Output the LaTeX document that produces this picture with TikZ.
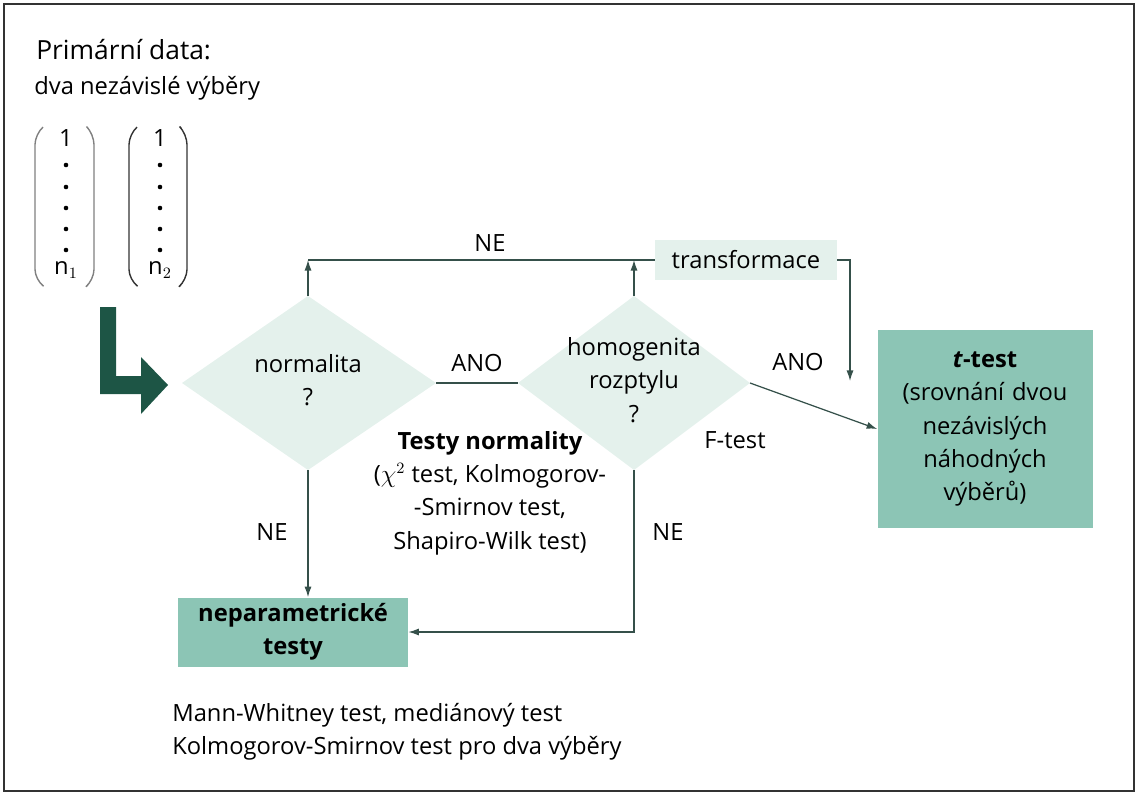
\documentclass[tikz,border=0pt]{standalone}
\usepackage{fontspec}
\setmainfont{Open Sans}
\usetikzlibrary{positioning,arrows.meta}
\definecolor{dgreen}{HTML}{1D5545}
\definecolor{lgreen}{HTML}{E4F1EC}
\definecolor{mgreen}{HTML}{8CC5B5}
\definecolor{lcol}{HTML}{35504A}
\begin{document}
\begin{tikzpicture}[x=0.02cm,y=-0.02cm]
	\tikzset{every node/.style={font=\fontsize{13.5}{19}\selectfont, inner sep=0pt, align=center},
		conn/.style={draw=lcol, line width=0.7pt},
		tip/.style={conn, -{Latex[length=6pt,width=4pt]}},
		dbox/.style={fill=mgreen, text width=#1},
	}
	\useasboundingbox (0,0) rectangle (1141,800);
	\draw [line width=0.8pt, black!80] (4,4) rectangle (1134,791);
	% input data
	\node [anchor=west, align=left, font=\fontsize{15}{19}\selectfont] (prim) at (36,50) {Primární data:};
	\node [anchor=west, align=left] (dva) at (34,88) {dva nezávislé výběry};
	\draw [gray, line width=0.8pt, rounded corners=6pt] (42,128) -- (35,134) -- (35,280) -- (42,285);
	\draw [gray, line width=0.8pt, rounded corners=6pt] (88,128) -- (94,134) -- (94,280) -- (88,285);
	\draw [black!80, line width=0.8pt, rounded corners=6pt] (136,128) -- (129,134) -- (129,280) -- (136,285);
	\draw [black!80, line width=0.8pt, rounded corners=6pt] (181,128) -- (187,134) -- (187,280) -- (181,285);
	\node (one1) at (66,138) {1};
	\node (one2) at (160,138) {1};
	\foreach \y in {165,187,208,229,250} {
		\fill (66,\y) circle (1.3pt);
		\fill (160,\y) circle (1.3pt);
	}
	\node (na) at (66,270) {n$_1$};
	\node (nb) at (160,270) {n$_2$};
	% thick arrow
	\fill [dgreen] (100,307) -- (116,307) -- (116,376) -- (141,376) -- (141,357) -- (168,385) -- (141,414) -- (141,394) -- (100,394) -- cycle;
	% diamonds
	\coordinate (n1t) at (308,296);
	\coordinate (n1b) at (308,470);
	\coordinate (n1r) at (436,383);
	\coordinate (n2t) at (634,296);
	\coordinate (n2b) at (634,470);
	\coordinate (n2l) at (518,383);
	\coordinate (n2r) at (750,383);
	\fill [lgreen] (182,383) -- (n1t) -- (n1r) -- (n1b) -- cycle;
	\fill [lgreen] (n2l) -- (n2t) -- (n2r) -- (n2b) -- cycle;
	\node (norm) at (308,380) {normalita\\?};
	\node (homo) at (634,380) {homogenita\\rozptylu\\?};
	% boxes
	\node [fill=lgreen, minimum width=3.64cm, minimum height=0.8cm] (trans) at (746,260) {transformace};
	\node [dbox=4.3cm, minimum height=3.96cm] (ttest) at (985,429) {\textbf{\textit{t}-test}\\(srovnání dvou\\nezávislých\\náhodných\\výběrů)};
	\node [dbox=4.6cm, minimum height=1.38cm] (nepar) at (293,632) {\textbf{neparametrické}\\\textbf{testy}};
	% connectors
	\coordinate (c1) at (308,260);
	\coordinate (c2) at (634,260);
	\coordinate (c3) at (850,260);
	\coordinate (c4) at (850,381);
	\coordinate (c5) at (634,632);
	\draw [tip] (n1t) -- (c1);
	\draw [tip] (n2t) -- (c2);
	\draw [conn] (c1) -- (trans.west);
	\draw [tip] (trans.east) -- (c3) -- (c4);
	\draw [conn] (n1r) -- (n2l);
	\draw [tip] (n2r) -- (ttest.west);
	\draw [tip] (n1b) -- (nepar.north -| n1b);
	\draw [tip] (n2b) -- (c5) -- (nepar.east);
	% labels
	\node (ne1) at (490,243) {NE};
	\node (ano1) at (477,363) {ANO};
	\node (ano2) at (798,362) {ANO};
	\node (ftest) at (735,440) {F-test};
	\node (ne2) at (272,532) {NE};
	\node (ne3) at (668,532) {NE};
	\node (testy) at (490,493) {\textbf{Testy normality}\\($\chi^2$ test, Kolmogorov-\\-Smirnov test,\\Shapiro-Wilk test)};
	\node [anchor=west, align=left] (mann) at (172,732) {Mann-Whitney test, mediánový test\\Kolmogorov-Smirnov test pro dva výběry};
\end{tikzpicture}
\end{document}
